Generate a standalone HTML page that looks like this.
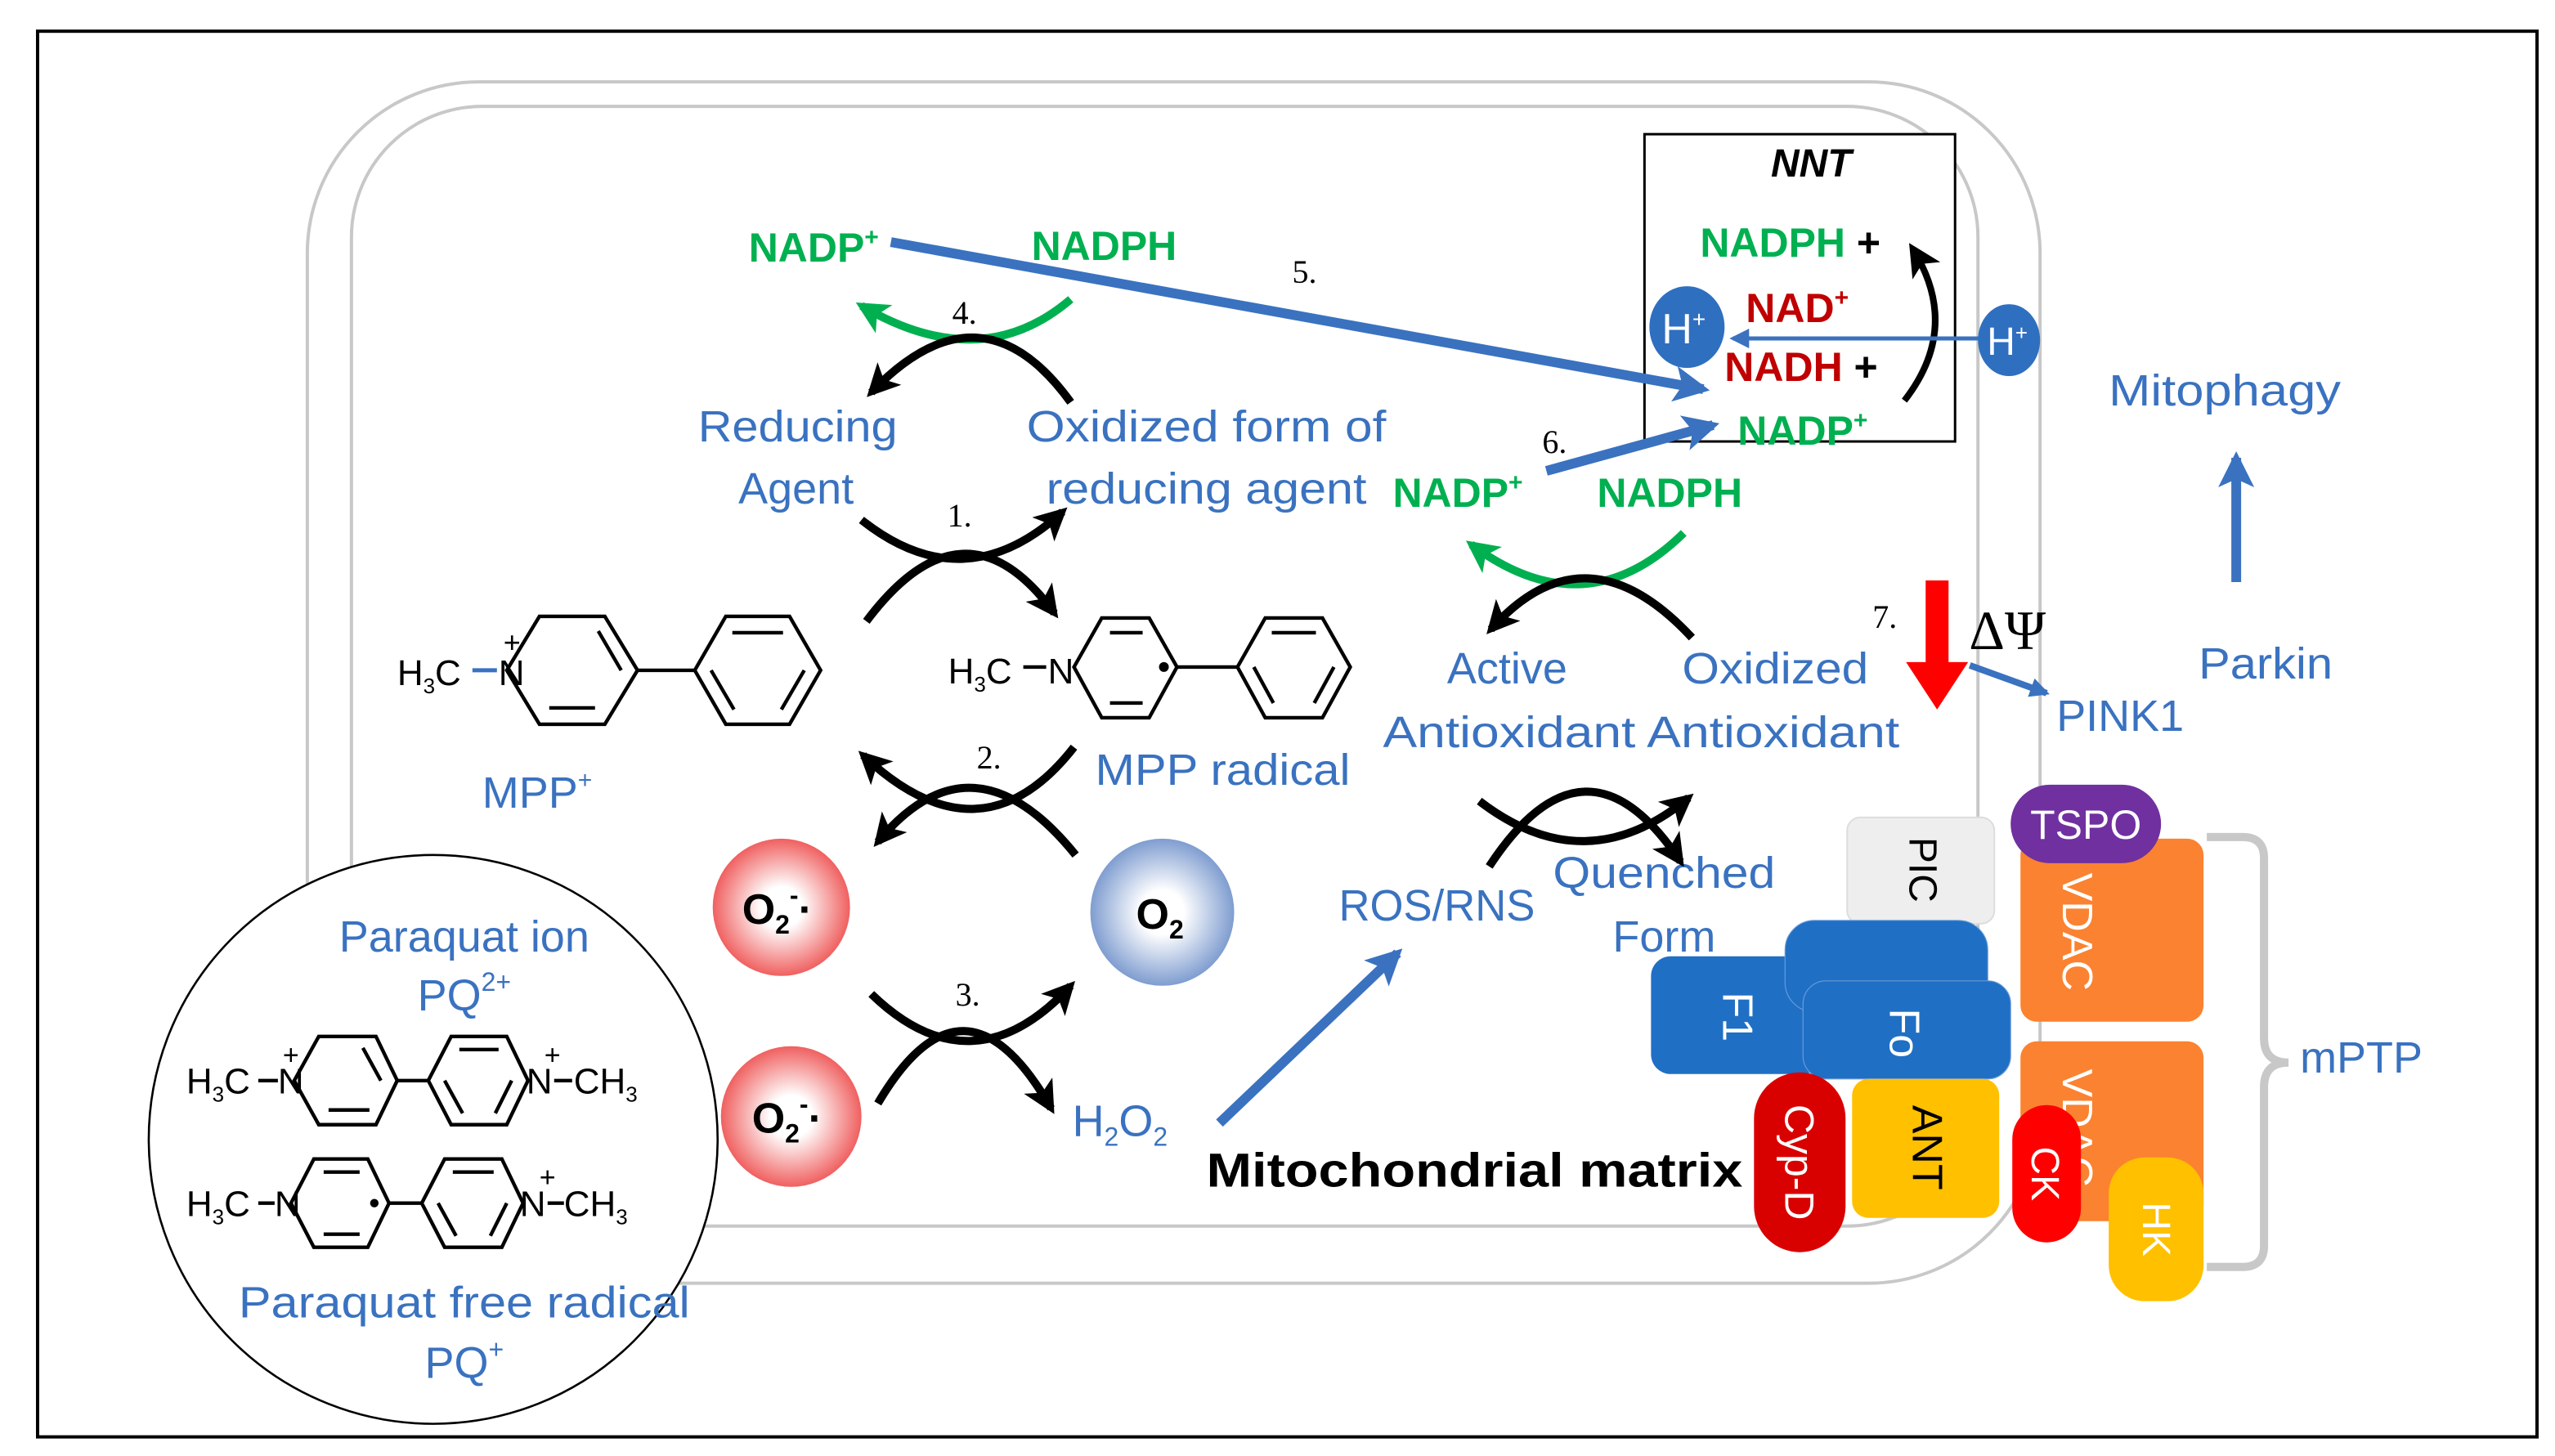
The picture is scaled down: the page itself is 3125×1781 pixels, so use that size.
<!DOCTYPE html>
<html><head><meta charset="utf-8"><style>html,body{margin:0;padding:0;background:#fff}svg{display:block}</style></head>
<body>
<svg width="3125" height="1781" viewBox="0 0 1563 890.6" xmlns="http://www.w3.org/2000/svg" font-family="Liberation Sans, sans-serif">
<defs>
<marker id="ab" markerUnits="userSpaceOnUse" markerWidth="26" markerHeight="26" refX="16" refY="10" orient="auto"><path d="M0,0 L20,10 L0,20 L5,10 Z" fill="#000"/></marker>
<marker id="ag" markerUnits="userSpaceOnUse" markerWidth="26" markerHeight="26" refX="16" refY="10" orient="auto"><path d="M0,0 L20,10 L0,20 L5,10 Z" fill="#00b050"/></marker>
<marker id="au" markerUnits="userSpaceOnUse" markerWidth="30" markerHeight="30" refX="18" refY="11" orient="auto"><path d="M0,0 L22,11 L0,22 L5,11 Z" fill="#3a72c0"/></marker>
<marker id="aus" markerUnits="userSpaceOnUse" markerWidth="16" markerHeight="16" refX="10" refY="6" orient="auto"><path d="M0,0 L12,6 L0,12 Z" fill="#3a72c0"/></marker>
<radialGradient id="gr" cx="50%" cy="50%" r="50%"><stop offset="0.3" stop-color="#fff"/><stop offset="1" stop-color="#f06060"/></radialGradient>
<radialGradient id="gb" cx="50%" cy="50%" r="50%"><stop offset="0.3" stop-color="#fff"/><stop offset="1" stop-color="#7f9dd0"/></radialGradient>
</defs>
<rect x="0" y="0" width="1563" height="891" fill="#fff"/>
<rect x="23" y="19" width="1529" height="860" fill="none" stroke="#000" stroke-width="2"/>
<rect x="188" y="50" width="1060" height="735" rx="105" fill="none" stroke="#c8c8c8" stroke-width="2"/>
<rect x="215" y="65" width="995" height="685" rx="80" fill="none" stroke="#c8c8c8" stroke-width="2"/>
<circle cx="265" cy="697" r="174" fill="#fff" stroke="#000" stroke-width="1.3"/>
<rect x="1006" y="82" width="190" height="188" fill="#fff" stroke="#000" stroke-width="1.5"/>
<text x="1108" y="108" font-size="24" font-style="italic" font-weight="bold" text-anchor="middle">NNT</text>
<g font-weight="bold" font-size="25">
<text x="1040" y="157" fill="#00b050">NADPH <tspan fill="#000">+</tspan></text>
<text x="1068" y="197" fill="#c00000">NAD<tspan font-size="15" dy="-10">+</tspan></text>
<text x="1055" y="233" fill="#c00000">NADH <tspan fill="#000">+</tspan></text>
<text x="1063" y="272" fill="#00b050">NADP<tspan font-size="15" dy="-10">+</tspan></text>
</g>
<path d="M1165,245 Q1200,200 1170,152" fill="none" stroke="#000" stroke-width="4" marker-end="url(#ab)"/>
<line x1="1215" y1="207" x2="1060" y2="207" stroke="#3a72c0" stroke-width="2.5" marker-end="url(#aus)"/>
<ellipse cx="1032" cy="200" rx="23" ry="25" fill="#2f6fc0"/>
<text x="1030" y="210" font-size="26" fill="#fff" text-anchor="middle">H<tspan font-size="14" dy="-10">+</tspan></text>
<ellipse cx="1229" cy="208" rx="19" ry="22" fill="#2f6fc0"/>
<text x="1228" y="217" font-size="24" fill="#fff" text-anchor="middle">H<tspan font-size="13" dy="-9">+</tspan></text>

<g font-weight="bold" font-size="25" fill="#00b050">
<text x="458" y="160">NADP<tspan font-size="15" dy="-10">+</tspan></text>
<text x="631" y="159">NADPH</text>
<text x="852" y="310">NADP<tspan font-size="15" dy="-10">+</tspan></text>
<text x="977" y="310">NADPH</text>
</g>
<g font-size="27" fill="#3a72c0">
<text x="427" y="270" textLength="122" lengthAdjust="spacingAndGlyphs">Reducing</text>
<text x="487" y="308" text-anchor="middle">Agent</text>
<text x="628" y="270" textLength="220" lengthAdjust="spacingAndGlyphs">Oxidized form of</text>
<text x="640" y="308" textLength="196" lengthAdjust="spacingAndGlyphs">reducing agent</text>
<text x="922" y="418" text-anchor="middle">Active</text>
<text x="1029" y="418" textLength="114" lengthAdjust="spacingAndGlyphs">Oxidized</text>
<text x="846" y="457" textLength="316" lengthAdjust="spacingAndGlyphs">Antioxidant Antioxidant</text>
<text x="819" y="563" textLength="120" lengthAdjust="spacingAndGlyphs">ROS/RNS</text>
<text x="950" y="543" textLength="136" lengthAdjust="spacingAndGlyphs">Quenched</text>
<text x="1018" y="582" text-anchor="middle">Form</text>
<text x="670" y="480" textLength="156" lengthAdjust="spacingAndGlyphs">MPP radical</text>
<text x="295" y="494">MPP<tspan font-size="15" dy="-12">+</tspan></text>
<text x="656" y="695">H<tspan font-size="16" dy="6">2</tspan><tspan dy="-6">O</tspan><tspan font-size="16" dy="6">2</tspan></text>
<text x="1290" y="248" textLength="142" lengthAdjust="spacingAndGlyphs">Mitophagy</text>
<text x="1345" y="415" textLength="82" lengthAdjust="spacingAndGlyphs">Parkin</text>
<text x="1258" y="447" textLength="78" lengthAdjust="spacingAndGlyphs">PINK1</text>
<text x="1407" y="656">mPTP</text>
<text x="284" y="582" text-anchor="middle">Paraquat ion</text>
<text x="284" y="618" text-anchor="middle">PQ<tspan font-size="16" dy="-12">2+</tspan></text>
<text x="146" y="806" textLength="276" lengthAdjust="spacingAndGlyphs">Paraquat free radical</text>
<text x="284" y="843" text-anchor="middle">PQ<tspan font-size="16" dy="-12">+</tspan></text>
</g>
<g font-size="20" fill="#000" font-family="Liberation Serif, serif">
<text x="590" y="198" text-anchor="middle">4.</text>
<text x="587" y="322" text-anchor="middle">1.</text>
<text x="605" y="470" text-anchor="middle">2.</text>
<text x="592" y="615" text-anchor="middle">3.</text>
<text x="798" y="173" text-anchor="middle">5.</text>
<text x="951" y="277" text-anchor="middle">6.</text>
<text x="1153" y="384" text-anchor="middle">7.</text>
<text x="1228" y="397" text-anchor="middle" font-size="34">ΔΨ</text>
</g>
<text x="738" y="726" font-size="29" font-weight="bold" textLength="328" lengthAdjust="spacingAndGlyphs">Mitochondrial matrix</text>

<g fill="none" stroke-width="5">
<path d="M655,183 Q600,230 527,187" stroke="#00b050" marker-end="url(#ag)"/>
<path d="M655,246 Q600,170 533,240" stroke="#000" marker-end="url(#ab)"/>
<path d="M527,318 Q590,368 650,313" stroke="#000" marker-end="url(#ab)"/>
<path d="M530,380 Q590,300 645,375" stroke="#000" marker-end="url(#ab)"/>
<path d="M657,457 Q600,530 528,462" stroke="#000" marker-end="url(#ab)"/>
<path d="M658,523 Q595,445 537,515" stroke="#000" marker-end="url(#ab)"/>
<path d="M533,608 Q595,668 655,603" stroke="#000" marker-end="url(#ab)"/>
<path d="M537,675 Q590,585 643,678" stroke="#000" marker-end="url(#ab)"/>
<path d="M1030,326 Q970,385 900,333" stroke="#00b050" marker-end="url(#ag)"/>
<path d="M1035,390 Q970,320 912,385" stroke="#000" marker-end="url(#ab)"/>
<path d="M905,490 Q970,540 1033,488" stroke="#000" marker-end="url(#ab)"/>
<path d="M911,530 Q970,440 1028,527" stroke="#000" marker-end="url(#ab)"/>
</g>
<g stroke="#3a72c0" stroke-width="6" fill="none">
<line x1="545" y1="148" x2="1042" y2="238" marker-end="url(#au)"/>
<line x1="946" y1="288" x2="1048" y2="260" marker-end="url(#au)"/>
<line x1="746" y1="687" x2="855" y2="583" marker-end="url(#au)"/>
<line x1="1368" y1="356" x2="1368" y2="280" marker-end="url(#au)"/>
<line x1="1205" y1="407" x2="1252" y2="424" stroke-width="4" marker-end="url(#aus)"/>
</g>
<path d="M1178,355 H1192 V405 H1204 L1185,434 L1166,405 H1178 Z" fill="#ff0000"/>

<ellipse cx="478" cy="555" rx="42" ry="42" fill="url(#gr)"/>
<ellipse cx="484" cy="683" rx="43" ry="43" fill="url(#gr)"/>
<ellipse cx="711" cy="558" rx="44" ry="45" fill="url(#gb)"/>
<g font-weight="bold" font-size="26">
<text x="454" y="565">O<tspan font-size="16" dy="6">2</tspan><tspan font-size="16" dy="-18">-</tspan><tspan dy="12">·</tspan></text>
<text x="460" y="693">O<tspan font-size="16" dy="6">2</tspan><tspan font-size="16" dy="-18">-</tspan><tspan dy="12">·</tspan></text>
<text x="695" y="568">O<tspan font-size="16" dy="6">2</tspan></text>
</g>

<g fill="none" stroke="#000" stroke-width="2.2">
<polygon points="310,410 330,377 370,377 390,410 370,443 330,443"/>
<line x1="336" y1="433" x2="364" y2="433"/><line x1="380" y1="410" x2="366" y2="386"/>
<polygon points="425,410 444,377 483,377 502,410 483,443 444,443"/>
<line x1="448" y1="387" x2="479" y2="387"/><line x1="492" y1="410" x2="478" y2="434"/><line x1="435" y1="410" x2="449" y2="434"/>
<line x1="390" y1="410" x2="425" y2="410"/>
<polygon points="657,408 674,378 703,378 720,408 703,439 674,439"/>
<line x1="679" y1="387" x2="699" y2="387"/><line x1="679" y1="430" x2="699" y2="430"/>
<line x1="720" y1="408" x2="757" y2="408"/>
<polygon points="757,408 774,378 809,378 826,408 809,439 774,439"/>
<line x1="778" y1="387" x2="805" y2="387"/><line x1="816" y1="408" x2="804" y2="430"/><line x1="767" y1="408" x2="779" y2="430"/>
<polygon points="180,661 195,634 230,634 243,661 230,688 195,688" />
<line x1="201" y1="679" x2="226" y2="679"/><line x1="233" y1="661" x2="222" y2="641"/>
<line x1="243" y1="661" x2="262" y2="661"/>
<polygon points="262,661 276,634 310,634 323,661 310,688 276,688"/>
<line x1="281" y1="642" x2="305" y2="642"/><line x1="272" y1="661" x2="283" y2="681"/><line x1="313" y1="661" x2="303" y2="681"/>
<polygon points="178,736 192,709 225,709 238,736 225,763 192,763"/>
<line x1="198" y1="717" x2="220" y2="717"/><line x1="198" y1="755" x2="220" y2="755"/>
<line x1="238" y1="736" x2="258" y2="736"/>
<polygon points="258,736 272,709 307,709 320,736 307,763 272,763"/>
<line x1="277" y1="717" x2="302" y2="717"/><line x1="268" y1="736" x2="279" y2="756"/><line x1="310" y1="736" x2="300" y2="756"/>
</g>
<g font-size="22" fill="#000">
<text x="243" y="419">H<tspan font-size="13" dy="5">3</tspan><tspan dy="-5">C</tspan></text>
<line x1="289" y1="410" x2="304" y2="410" stroke="#3a72c0" stroke-width="2.5"/>
<text x="305" y="419">N</text><text x="308" y="399" font-size="18">+</text>
<text x="580" y="418">H<tspan font-size="13" dy="5">3</tspan><tspan dy="-5">C</tspan></text>
<line x1="626" y1="408" x2="640" y2="408" stroke="#000" stroke-width="2.2"/>
<text x="641" y="418">N</text>
<circle cx="712" cy="408" r="3" fill="#000"/>
<text x="114" y="669">H<tspan font-size="13" dy="5">3</tspan><tspan dy="-5">C</tspan></text>
<line x1="158" y1="661" x2="170" y2="661" stroke="#000" stroke-width="2.2"/>
<text x="170" y="669">N</text><text x="173" y="651" font-size="17">+</text>
<text x="322" y="669">N</text><text x="333" y="651" font-size="17">+</text>
<line x1="339" y1="661" x2="350" y2="661" stroke="#000" stroke-width="2.2"/>
<text x="351" y="669">CH<tspan font-size="13" dy="5">3</tspan></text>
<text x="114" y="744">H<tspan font-size="13" dy="5">3</tspan><tspan dy="-5">C</tspan></text>
<line x1="158" y1="736" x2="168" y2="736" stroke="#000" stroke-width="2.2"/>
<text x="168" y="744">N</text>
<circle cx="229" cy="736" r="2.6" fill="#000"/>
<text x="318" y="744">N</text><text x="330" y="726" font-size="17">+</text>
<line x1="335" y1="736" x2="345" y2="736" stroke="#000" stroke-width="2.2"/>
<text x="345" y="744">CH<tspan font-size="13" dy="5">3</tspan></text>
</g>

<path d="M1350,512 H1372 Q1385,512 1385,525 V635 Q1385,650 1400,650 Q1385,650 1385,665 V762 Q1385,775 1372,775 H1350" fill="none" stroke="#c8c8c8" stroke-width="5"/>
<rect x="1130" y="500" width="90" height="65" rx="8" fill="#eeeeee" stroke="#ddd"/>
<text transform="translate(1168,532) rotate(90)" font-size="24" text-anchor="middle" fill="#000">PIC</text>
<rect x="1236" y="513" width="112" height="112" rx="10" fill="#fb8230"/>
<rect x="1236" y="637" width="112" height="110" rx="10" fill="#fb8230"/>
<text transform="translate(1262,570) rotate(90)" font-size="26" text-anchor="middle" fill="#fff">VDAC</text>
<text transform="translate(1262,690) rotate(90)" font-size="26" text-anchor="middle" fill="#fff">VDAC</text>
<rect x="1230" y="480" width="92" height="48" rx="24" fill="#7030a0"/>
<text x="1276" y="513" font-size="25" text-anchor="middle" fill="#fff">TSPO</text>
<rect x="1010" y="585" width="105" height="72" rx="12" fill="#1f6fc5"/>
<rect x="1092" y="563" width="124" height="56" rx="18" fill="#1f6fc5" stroke="#6a9ad8" stroke-width="0.6"/>
<rect x="1103" y="600" width="127" height="60" rx="14" fill="#1f6fc5" stroke="#6a9ad8" stroke-width="0.6"/>
<text transform="translate(1054,622) rotate(90)" font-size="26" text-anchor="middle" fill="#fff">F1</text>
<text transform="translate(1156,632) rotate(90)" font-size="26" text-anchor="middle" fill="#fff">Fo</text>
<rect x="1133" y="660" width="90" height="85" rx="10" fill="#ffc000"/>
<text transform="translate(1170,702) rotate(90)" font-size="26" text-anchor="middle" fill="#000">ANT</text>
<rect x="1073" y="656" width="56" height="110" rx="28" fill="#d90000"/>
<text transform="translate(1092,711) rotate(90)" font-size="25" text-anchor="middle" fill="#fff">Cyp-D</text>
<rect x="1231" y="676" width="42" height="84" rx="21" fill="#ff0000"/>
<text transform="translate(1243,718) rotate(90)" font-size="24" text-anchor="middle" fill="#fff">CK</text>
<rect x="1290" y="708" width="58" height="88" rx="22" fill="#ffc000"/>
<text transform="translate(1311,752) rotate(90)" font-size="24" text-anchor="middle" fill="#fff">HK</text>
</svg>
</body></html>
